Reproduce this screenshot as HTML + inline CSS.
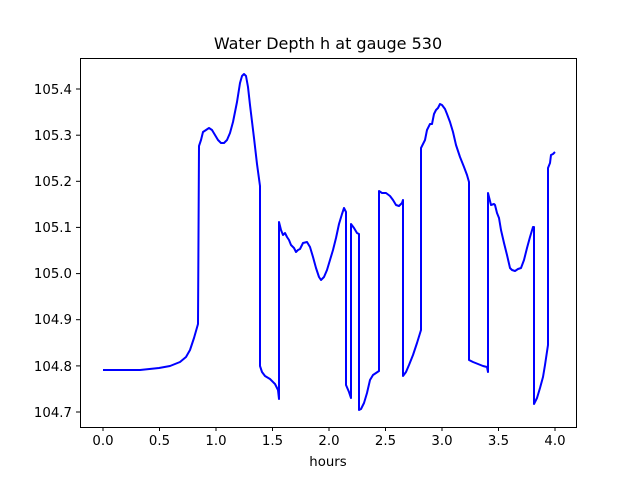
<!DOCTYPE html>
<html><head><style>body{margin:0;background:#fff}</style></head><body>
<svg width="640" height="480" xmlns="http://www.w3.org/2000/svg" font-family="DejaVu Sans, sans-serif">
<rect width="640" height="480" fill="#fff"/>
<polyline fill="none" stroke="#0000ff" stroke-width="2" stroke-linejoin="round" points="103,370 140,370 159,368 170,366 180,362 186,357 190,350 194,338 198,324 199,146 201,140 203,132 206,130 209,128 212,130 215,135 218,140 221,143 224,143 227,140 230,133 233,122 237,102 240,83 242,76 244,74 246,76 248,87 250,105 254,138 257,164 260,186 260,366 262,372 265,376 270,379 275,384 278,390 279,399 279,222 281,230 283,235 285,233 287,237 289,240 291,245 294,248 296,252 298,250 300,249 303,243 307,242 310,247 313,257 316,268 319,277 321,280 324,277 327,270 330,260 333,250 336,238 339,224 342,214 344,208 346,212 346,385 349,392 351,398 351,224 354,228 357,233 359,234 359,410 361,409 364,403 367,393 370,380 373,375 376,373 379,371 379,191 382,193 386,193 390,196 393,200 396,205 399,206 402,203 403,200 403,376 406,372 409,365 413,355 417,343 421,330 421,148 423,144 425,140 427,130 430,124 432,124 434,114 436,110 438,108 440,104 442,105 445,109 447,114 450,122 453,132 456,145 460,157 464,167 467,175 469,182 469,360 473,362 478,364 483,366 487,367 488,372 488,193 490,201 491,205 494,204 495,205 497,213 499,218 501,230 504,243 507,255 510,268 512,270 515,271 518,269 521,268 524,260 527,248 530,237 533,227 534,227 534,404 537,398 540,388 543,377 545,365 548,345 548,168 550,163 551,155 553,154 555,152"/>
<rect x="80.5" y="58.5" width="496" height="369" fill="none" stroke="#000" stroke-width="1"/>
<g stroke="#000" stroke-width="1">
<line x1="103" y1="427" x2="103" y2="431"/><line x1="159.5" y1="427" x2="159.5" y2="431"/><line x1="216" y1="427" x2="216" y2="431"/><line x1="272.5" y1="427" x2="272.5" y2="431"/><line x1="329" y1="427" x2="329" y2="431"/><line x1="385.5" y1="427" x2="385.5" y2="431"/><line x1="442" y1="427" x2="442" y2="431"/><line x1="498.5" y1="427" x2="498.5" y2="431"/><line x1="555" y1="427" x2="555" y2="431"/>
<line x1="76" y1="412" x2="80" y2="412"/><line x1="76" y1="365.9" x2="80" y2="365.9"/><line x1="76" y1="319.7" x2="80" y2="319.7"/><line x1="76" y1="273.6" x2="80" y2="273.6"/><line x1="76" y1="227.4" x2="80" y2="227.4"/><line x1="76" y1="181.3" x2="80" y2="181.3"/><line x1="76" y1="135.2" x2="80" y2="135.2"/><line x1="76" y1="89" x2="80" y2="89"/>
</g>
<g font-size="13.3" fill="#000" text-anchor="middle">
<text x="103" y="445">0.0</text><text x="159.5" y="445">0.5</text><text x="216" y="445">1.0</text><text x="272.5" y="445">1.5</text><text x="329" y="445">2.0</text><text x="385.5" y="445">2.5</text><text x="442" y="445">3.0</text><text x="498.5" y="445">3.5</text><text x="555" y="445">4.0</text>
<text x="328" y="466">hours</text>
</g>
<g font-size="13.3" fill="#000" text-anchor="end">
<text x="72" y="417">104.7</text><text x="72" y="371">104.8</text><text x="72" y="324">104.9</text><text x="72" y="278">105.0</text><text x="72" y="232">105.1</text><text x="72" y="186">105.2</text><text x="72" y="140">105.3</text><text x="72" y="94">105.4</text>
</g>
<text x="328" y="49" font-size="16" text-anchor="middle" fill="#000">Water Depth h at gauge 530</text>
</svg>
</body></html>
